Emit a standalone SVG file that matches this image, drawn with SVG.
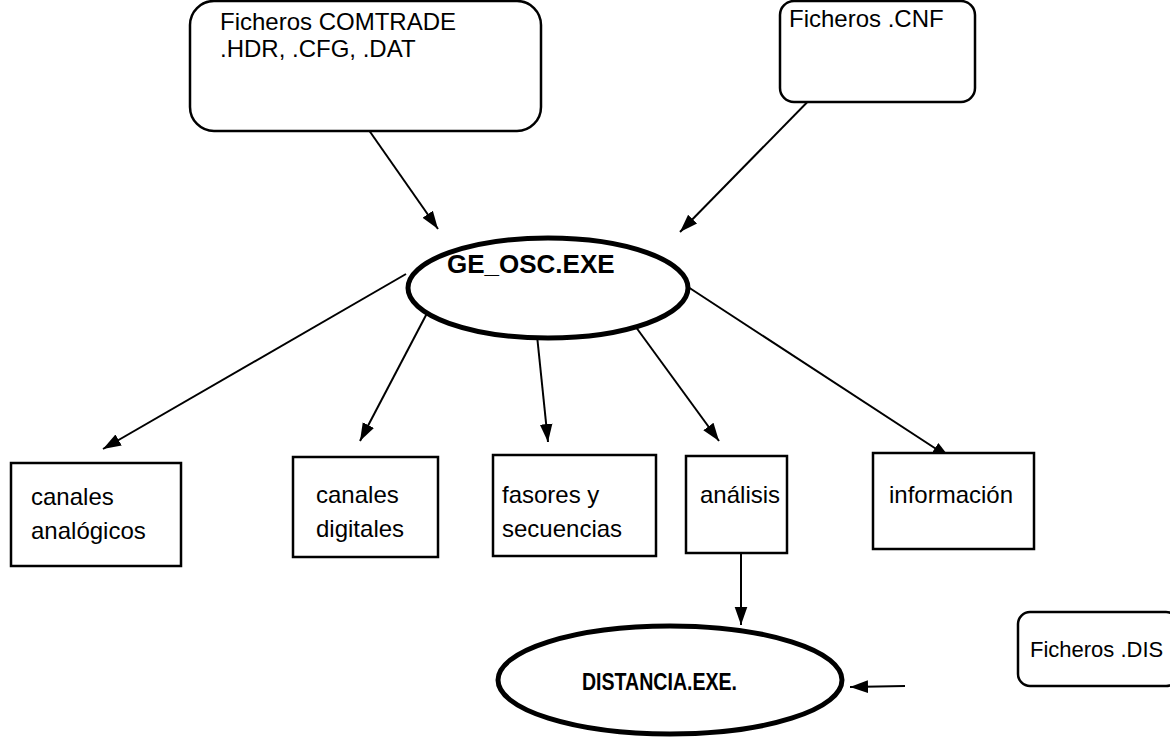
<svg xmlns="http://www.w3.org/2000/svg" width="1170" height="737" viewBox="0 0 1170 737">
<style>
.box{fill:#fff;stroke:#000;stroke-width:2.5}
.ell{fill:#fff;stroke:#000;stroke-width:5}
.t{font-family:"Liberation Sans",Arial,sans-serif;font-size:24px;fill:#000}
.b{font-family:"Liberation Sans",Arial,sans-serif;font-weight:bold;fill:#000}
.c{stroke:#000;stroke-width:2;fill:none;marker-end:url(#ah)}
</style>
<defs>
<marker id="ah" viewBox="0 0 10 10" refX="10" refY="5" markerWidth="9" markerHeight="9" markerUnits="strokeWidth" orient="auto">
<path d="M0,1.5 L10,5 L0,8.5 z" fill="#000"/>
</marker>
</defs>
<rect width="1170" height="737" fill="#fff"/>
<g id="connectors">
<line class="c" x1="352" y1="106" x2="438" y2="229"/>
<line class="c" x1="826" y1="83" x2="680" y2="232"/>
<line class="c" x1="406" y1="274" x2="103" y2="449"/>
<line class="c" x1="435" y1="298" x2="360" y2="441"/>
<line class="c" x1="535" y1="316" x2="548" y2="442"/>
<line class="c" x1="622" y1="308" x2="719" y2="441"/>
<line class="c" x1="685" y1="285" x2="950" y2="458"/>
<line class="c" x1="741" y1="553" x2="741" y2="625"/>
<line class="c" x1="905" y1="686" x2="850" y2="687"/>
</g>
<g id="comtrade">
<rect class="box" x="190" y="1" width="351" height="130" rx="24"/>
<text class="t" x="220" y="30">Ficheros COMTRADE</text>
<text class="t" x="220" y="57">.HDR, .CFG, .DAT</text>
</g>
<g id="cnf">
<rect class="box" x="780" y="1" width="195" height="101" rx="14"/>
<text class="t" x="789" y="27">Ficheros .CNF</text>
</g>
<g id="ge_osc">
<ellipse class="ell" cx="548" cy="288" rx="140" ry="50"/>
<text class="b" x="447" y="273" font-size="26">GE_OSC.EXE</text>
</g>
<g id="canales_analogicos">
<rect class="box" x="11" y="463" width="170" height="103"/>
<text class="t" x="31" y="505">canales</text>
<text class="t" x="31" y="539">analógicos</text>
</g>
<g id="canales_digitales">
<rect class="box" x="293" y="457" width="145" height="100"/>
<text class="t" x="316" y="503">canales</text>
<text class="t" x="316" y="537">digitales</text>
</g>
<g id="fasores">
<rect class="box" x="493" y="455" width="163" height="101"/>
<text class="t" x="502" y="503">fasores y</text>
<text class="t" x="502" y="537">secuencias</text>
</g>
<g id="analisis">
<rect class="box" x="686" y="456" width="101" height="97"/>
<text class="t" x="700" y="503">análisis</text>
</g>
<g id="informacion">
<rect class="box" x="873" y="453" width="161" height="96"/>
<text class="t" x="889" y="503">información</text>
</g>
<g id="distancia">
<ellipse class="ell" cx="670" cy="680" rx="172" ry="54"/>
<text class="b" x="582" y="690" font-size="23" textLength="155" lengthAdjust="spacingAndGlyphs">DISTANCIA.EXE.</text>
</g>
<g id="dis">
<rect class="box" x="1018" y="612" width="160" height="74" rx="12"/>
<text class="t" x="1030" y="657" font-size="22" style="font-size:22px">Ficheros .DIS</text>
</g>
</svg>
